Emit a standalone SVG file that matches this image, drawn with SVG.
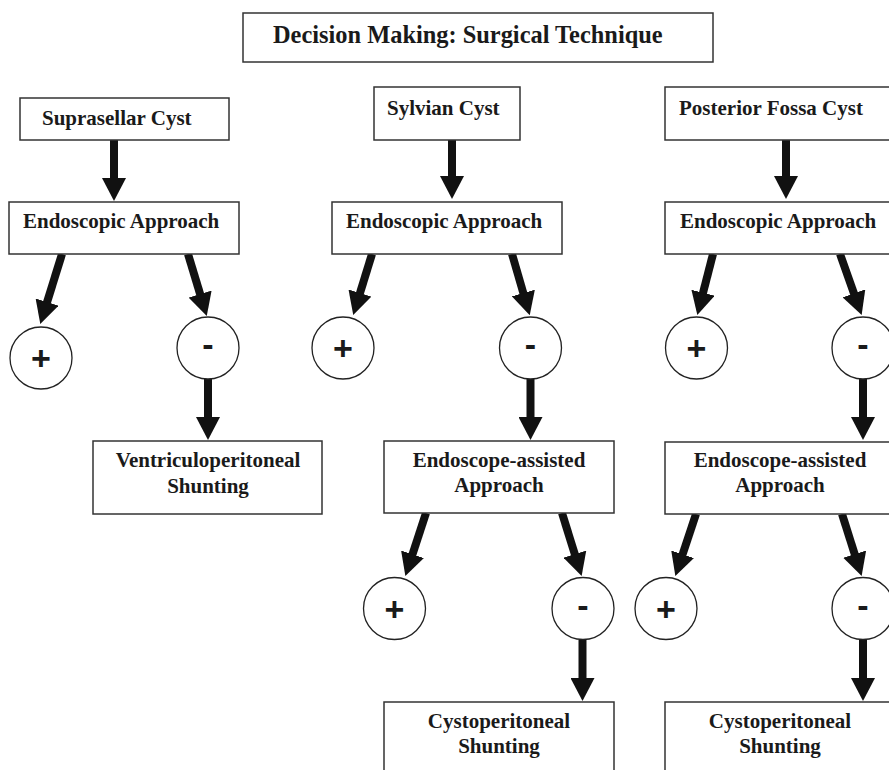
<svg xmlns="http://www.w3.org/2000/svg" width="889" height="770" viewBox="0 0 889 770">
<defs>
<style>
.box{fill:#fff;stroke:#333;stroke-width:1.5}
.circ{fill:#fff;stroke:#222;stroke-width:1.3}
.t{font-family:"Liberation Serif","Times New Roman",serif;font-weight:bold;font-size:21px;fill:#1a1a1a}
.title{font-size:24.4px}
.m{text-anchor:middle}
.sign{font-family:"Liberation Sans",Arial,sans-serif;font-weight:bold;font-size:34px;fill:#1a1a1a;text-anchor:middle}
.arr{stroke:#111;stroke-width:8;fill:none;marker-end:url(#ah)}
</style>
<marker id="ah" markerUnits="userSpaceOnUse" viewBox="0 0 23 24" markerWidth="23" markerHeight="24" refX="1" refY="12" orient="auto">
<path d="M0,0 L23,12 L0,24 z" fill="#111"/>
</marker>
</defs>
<rect width="889" height="770" fill="#fff"/>

<g id="connectors">
<line class="arr" x1="114" y1="140" x2="114" y2="179"/>
<line class="arr" x1="452" y1="140" x2="452" y2="177"/>
<line class="arr" x1="786" y1="140" x2="786" y2="177"/>
<line class="arr" x1="208" y1="379" x2="208" y2="418"/>
<line class="arr" x1="530.5" y1="379" x2="530.5" y2="418"/>
<line class="arr" x1="863" y1="379" x2="863" y2="418"/>
<line class="arr" x1="582.5" y1="640" x2="582.5" y2="679"/>
<line class="arr" x1="863" y1="640" x2="863" y2="679"/>
<line class="arr" x1="62" y1="254" x2="46.8" y2="303"/>
<line class="arr" x1="188" y1="254" x2="200.4" y2="295"/>
<line class="arr" x1="372" y1="254" x2="359.7" y2="294"/>
<line class="arr" x1="512" y1="254" x2="523.6" y2="294"/>
<line class="arr" x1="713" y1="254" x2="702.8" y2="293.7"/>
<line class="arr" x1="840" y1="254" x2="854.3" y2="294.3"/>
<line class="arr" x1="426" y1="513" x2="412.2" y2="555.2"/>
<line class="arr" x1="562" y1="513" x2="575.1" y2="555.1"/>
<line class="arr" x1="696" y1="514" x2="682.3" y2="555.2"/>
<line class="arr" x1="842" y1="514" x2="855" y2="555.1"/>
</g>

<g id="title">
<rect class="box" x="243" y="13" width="470" height="49"/>
<text class="t title" x="273" y="43">Decision Making: Surgical Technique</text>
</g>

<g id="suprasellar">
<rect class="box" x="20" y="98" width="209" height="42"/>
<text class="t" x="42" y="125">Suprasellar Cyst</text>
</g>
<g id="sylvian">
<rect class="box" x="374" y="87" width="146" height="53"/>
<text class="t" x="387" y="115">Sylvian Cyst</text>
</g>
<g id="posterior">
<rect class="box" x="665" y="87" width="230" height="53"/>
<text class="t" x="679" y="115">Posterior Fossa Cyst</text>
</g>

<g id="endo1">
<rect class="box" x="9" y="202" width="230" height="52"/>
<text class="t" x="23" y="228">Endoscopic Approach</text>
</g>
<g id="endo2">
<rect class="box" x="332" y="202" width="230" height="52"/>
<text class="t" x="346" y="228">Endoscopic Approach</text>
</g>
<g id="endo3">
<rect class="box" x="665" y="202" width="230" height="52"/>
<text class="t" x="680" y="228">Endoscopic Approach</text>
</g>

<g id="plus1"><circle class="circ" cx="41" cy="358" r="31"/><text class="sign" x="41" y="370">+</text></g>
<g id="minus1"><circle class="circ" cx="208" cy="348" r="31"/><text class="sign" x="208" y="356">-</text></g>
<g id="plus2"><circle class="circ" cx="343" cy="348" r="31"/><text class="sign" x="343" y="360">+</text></g>
<g id="minus2"><circle class="circ" cx="530.5" cy="348" r="31"/><text class="sign" x="530.5" y="356">-</text></g>
<g id="plus3"><circle class="circ" cx="696.5" cy="348" r="31"/><text class="sign" x="696.5" y="360">+</text></g>
<g id="minus3"><circle class="circ" cx="863" cy="348" r="31"/><text class="sign" x="863" y="356">-</text></g>

<g id="vp">
<rect class="box" x="93" y="441" width="229" height="73"/>
<text class="t m" x="208" y="467">Ventriculoperitoneal</text>
<text class="t m" x="208" y="493">Shunting</text>
</g>
<g id="ea2">
<rect class="box" x="384" y="441" width="230" height="72"/>
<text class="t m" x="499" y="467">Endoscope-assisted</text>
<text class="t m" x="499" y="492">Approach</text>
</g>
<g id="ea3">
<rect class="box" x="665" y="442" width="230" height="72"/>
<text class="t m" x="780" y="467">Endoscope-assisted</text>
<text class="t m" x="780" y="492">Approach</text>
</g>

<g id="plus4"><circle class="circ" cx="394.5" cy="608.5" r="31"/><text class="sign" x="394.5" y="620.5">+</text></g>
<g id="minus4"><circle class="circ" cx="583" cy="608.5" r="31"/><text class="sign" x="583" y="616.5">-</text></g>
<g id="plus5"><circle class="circ" cx="666" cy="608.5" r="31"/><text class="sign" x="666" y="620.5">+</text></g>
<g id="minus5"><circle class="circ" cx="863" cy="608.5" r="31"/><text class="sign" x="863" y="616.5">-</text></g>

<g id="cp2">
<rect class="box" x="384" y="702" width="230" height="80"/>
<text class="t m" x="499" y="728">Cystoperitoneal</text>
<text class="t m" x="499" y="753">Shunting</text>
</g>
<g id="cp3">
<rect class="box" x="665" y="702" width="230" height="80"/>
<text class="t m" x="780" y="728">Cystoperitoneal</text>
<text class="t m" x="780" y="753">Shunting</text>
</g>
</svg>
